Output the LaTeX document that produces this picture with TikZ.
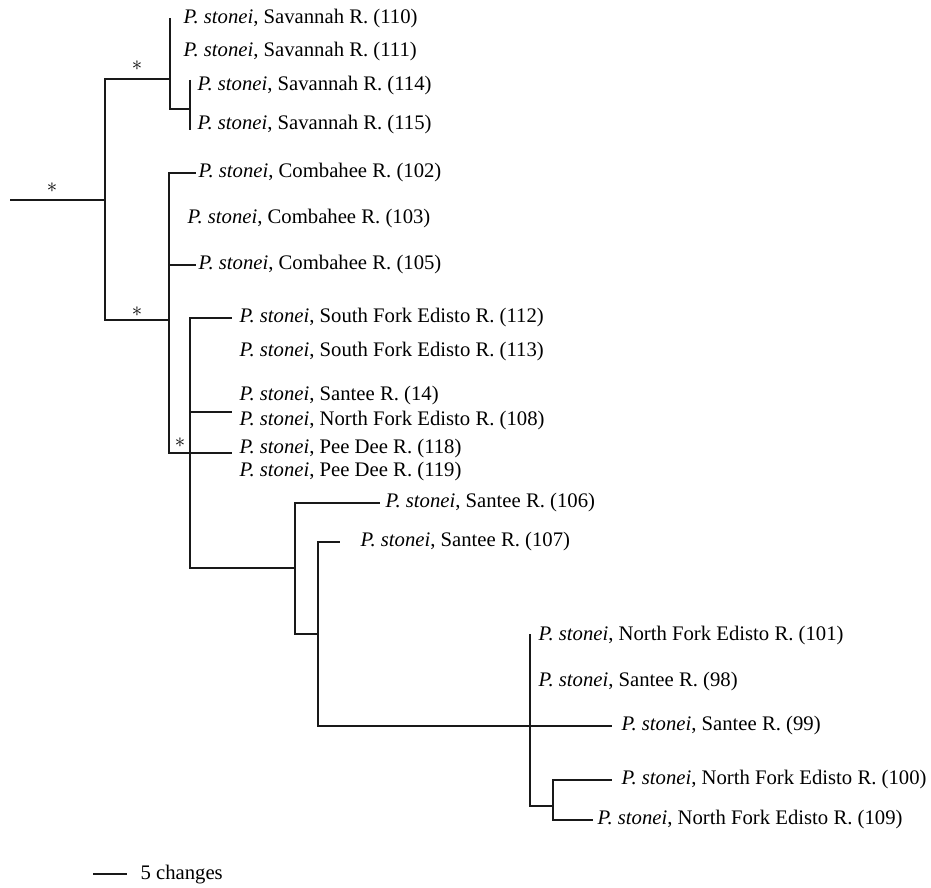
\documentclass[tikz,border=0pt]{standalone}
\usepackage{fontspec}
\setmainfont{Liberation Serif}
\begin{document}
\begin{tikzpicture}[x=1pt,y=-1pt,line width=1.1pt,
  lbl/.style={anchor=west,inner sep=0pt,font=\fontsize{20.7}{22}\selectfont},
  star/.style={inner sep=0pt,font=\fontsize{20}{22}\selectfont},
  br/.style={draw=black!90}]
\useasboundingbox (0,0) rectangle (931,888);
\newcommand{\ps}{\textit{P. stonei}, }
% internal nodes
\coordinate (r0) at (10,200);
\coordinate (nA) at (105,200);
\coordinate (nS) at (170,79);
\coordinate (sTop) at (170,18);
\coordinate (nS2) at (190,109);
\coordinate (s2Top) at (190,80);
\coordinate (s2Bot) at (190,130);
\coordinate (nC) at (169,320);
\coordinate (e102) at (196,173);
\coordinate (e105) at (196,265);
\coordinate (nE) at (190,453);
\coordinate (nE0) at (169,453);
\coordinate (e112) at (232,318);
\coordinate (e14) at (232,412);
\coordinate (e118) at (232,453);
\coordinate (nF) at (295,568);
\coordinate (e106) at (380,503);
\coordinate (nG) at (318,634);
\coordinate (e107) at (340,542);
\coordinate (nH) at (530,726);
\coordinate (hTop) at (530,634);
\coordinate (e99) at (612,726);
\coordinate (nI) at (553,806);
\coordinate (e100) at (612,780);
\coordinate (e109) at (593,820);
% branches
\draw[br] (r0) -- (nA);
\draw[br] (nA) |- (nS);
\draw[br] (nA) |- (nC);
\draw[br] (nS) -- (sTop);
\draw[br] (nS) |- (nS2);
\draw[br] (s2Top) -- (s2Bot);
\draw[br] (nC) |- (e102);
\draw[br] (nC) |- (e105);
\draw[br] (nC) -- (nE0) -- (nE);
\draw[br] (nE) |- (e112);
\draw[br] (nE) |- (e14);
\draw[br] (nE) -- (e118);
\draw[br] (nE) |- (nF);
\draw[br] (nF) |- (e106);
\draw[br] (nF) |- (nG);
\draw[br] (nG) |- (e107);
\draw[br] (nG) |- (nH);
\draw[br] (nH) -- (hTop);
\draw[br] (nH) -- (e99);
\draw[br] (nH) |- (nI);
\draw[br] (nI) |- (e100);
\draw[br] (nI) |- (e109);
% support stars
\node[star] (st1) at (52,188) {$\ast$};
\node[star] (st2) at (137,66) {$\ast$};
\node[star] (st3) at (137,312) {$\ast$};
\node[star] (st4) at (180,443) {$\ast$};
% labels
\node[lbl] (l110) at (183,19) {\ps Savannah R. (110)};
\node[lbl] (l111) at (183,52) {\ps Savannah R. (111)};
\node[lbl] (l114) at (197,86) {\ps Savannah R. (114)};
\node[lbl] (l115) at (197,125) {\ps Savannah R. (115)};
\node[lbl] (l102) at (198,173) {\ps Combahee R. (102)};
\node[lbl] (l103) at (187,219) {\ps Combahee R. (103)};
\node[lbl] (l105) at (198,265) {\ps Combahee R. (105)};
\node[lbl] (l112) at (239,318) {\ps South Fork Edisto R. (112)};
\node[lbl] (l113) at (239,352) {\ps South Fork Edisto R. (113)};
\node[lbl] (l14) at (239,396) {\ps Santee R. (14)};
\node[lbl] (l108) at (239,421) {\ps North Fork Edisto R. (108)};
\node[lbl] (l118) at (239,449) {\ps Pee Dee R. (118)};
\node[lbl] (l119) at (239,472) {\ps Pee Dee R. (119)};
\node[lbl] (l106) at (385,503) {\ps Santee R. (106)};
\node[lbl] (l107) at (360,542) {\ps Santee R. (107)};
\node[lbl] (l101) at (538,636) {\ps North Fork Edisto R. (101)};
\node[lbl] (l98) at (538,682) {\ps Santee R. (98)};
\node[lbl] (l99) at (621,726) {\ps Santee R. (99)};
\node[lbl] (l100) at (621,780) {\ps North Fork Edisto R. (100)};
\node[lbl] (l109) at (597,820) {\ps North Fork Edisto R. (109)};
% scale bar
\coordinate (sb1) at (93,874);
\coordinate (sb2) at (127,874);
\draw[br] (sb1) -- (sb2);
\node[lbl] (sbl) at (140,875) {5 changes};
\end{tikzpicture}
\end{document}
